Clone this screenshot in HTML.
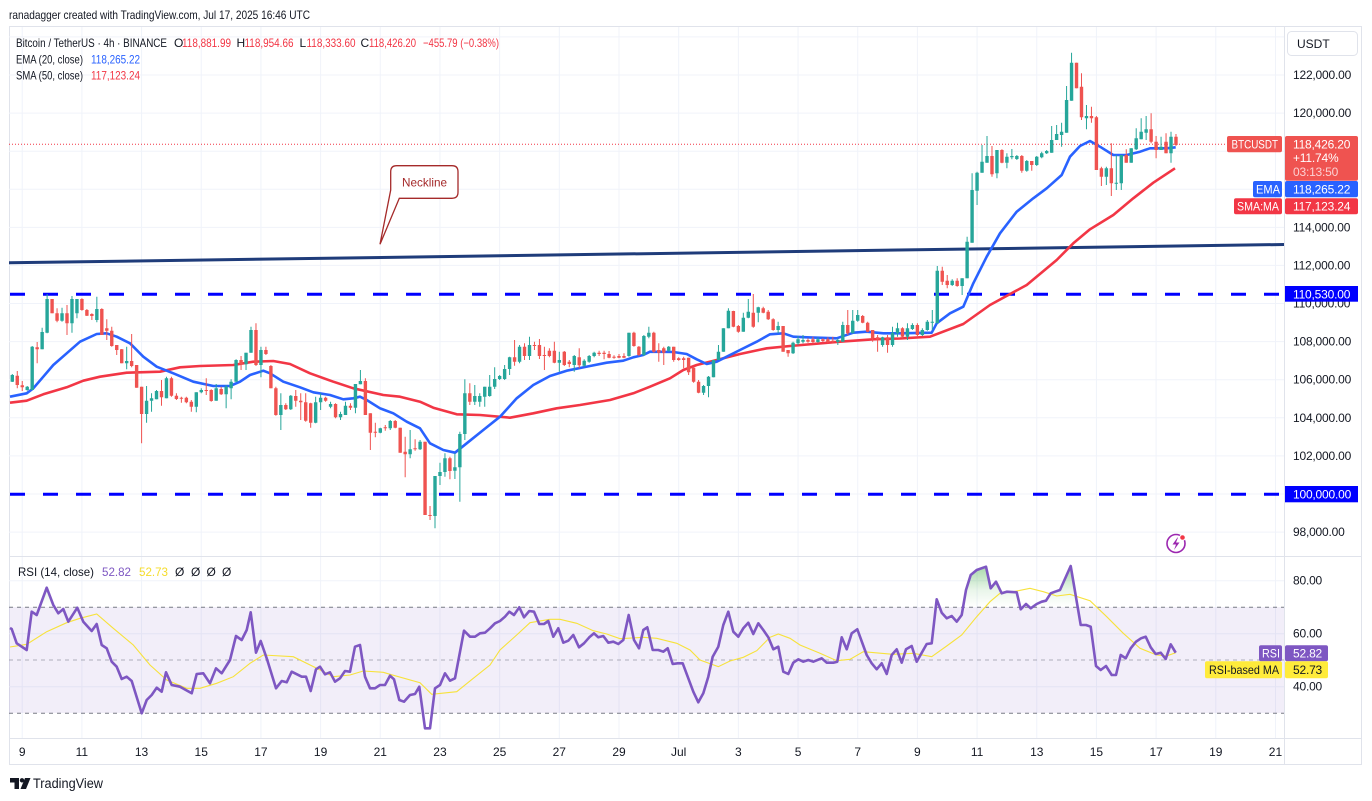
<!DOCTYPE html>
<html><head><meta charset="utf-8"><style>
html,body{margin:0;padding:0;background:#fff;}
svg{display:block;font-family:"Liberation Sans",Arial,sans-serif;}
</style></head><body>
<svg id="s" width="1372" height="801" viewBox="0 0 1372 801" xmlns="http://www.w3.org/2000/svg">
<defs>
<linearGradient id="gg" gradientUnits="userSpaceOnUse" x1="0" y1="565" x2="0" y2="607"><stop offset="0" stop-color="#4caf50" stop-opacity="0.5"/><stop offset="0.6" stop-color="#4caf50" stop-opacity="0.12"/><stop offset="1" stop-color="#4caf50" stop-opacity="0"/></linearGradient>
<clipPath id="cTop"><rect x="9" y="556" width="1275" height="51"/></clipPath>
<clipPath id="cMain"><rect x="9" y="27" width="1275" height="529"/></clipPath>
</defs>
<rect width="1372" height="801" fill="#fff"/>
<text x="9" y="19" font-size="12" fill="#131722" textLength="301" lengthAdjust="spacingAndGlyphs">ranadagger created with TradingView.com, Jul 17, 2025 16:46 UTC</text>

<rect x="9.5" y="26.5" width="1352" height="738" fill="none" stroke="#e0e3eb"/>

<g stroke="#f0f3fa" stroke-width="1" id="vgrid"></g>
<g stroke="#f0f3fa" stroke-width="1">
<line x1="9" x2="1284" y1="36.9" y2="36.9"/><line x1="9" x2="1284" y1="75" y2="75"/><line x1="9" x2="1284" y1="113.1" y2="113.1"/><line x1="9" x2="1284" y1="151.2" y2="151.2"/><line x1="9" x2="1284" y1="189.3" y2="189.3"/><line x1="9" x2="1284" y1="227.4" y2="227.4"/><line x1="9" x2="1284" y1="265.4" y2="265.4"/><line x1="9" x2="1284" y1="303.5" y2="303.5"/><line x1="9" x2="1284" y1="341.6" y2="341.6"/><line x1="9" x2="1284" y1="379.7" y2="379.7"/><line x1="9" x2="1284" y1="417.8" y2="417.8"/><line x1="9" x2="1284" y1="455.9" y2="455.9"/><line x1="9" x2="1284" y1="494" y2="494"/><line x1="9" x2="1284" y1="532.1" y2="532.1"/>
<line x1="9" x2="1284" y1="580.7" y2="580.7"/><line x1="9" x2="1284" y1="633.7" y2="633.7"/><line x1="9" x2="1284" y1="686.7" y2="686.7"/>
</g>

<line x1="9" x2="1362" y1="556.5" y2="556.5" stroke="#e0e3eb"/>
<line x1="9" x2="1362" y1="738.5" y2="738.5" stroke="#e0e3eb"/>
<line x1="1284.5" x2="1284.5" y1="27" y2="765" stroke="#e0e3eb"/>

<g font-size="12">
<text x="16" y="47" fill="#131722" textLength="151" lengthAdjust="spacingAndGlyphs">Bitcoin / TetherUS · 4h · BINANCE</text>
<text x="174" y="47" fill="#131722">O</text><text x="182" y="47" fill="#f23645" textLength="49" lengthAdjust="spacingAndGlyphs">118,881.99</text>
<text x="236.5" y="47" fill="#131722">H</text><text x="244.5" y="47" fill="#f23645" textLength="49" lengthAdjust="spacingAndGlyphs">118,954.66</text>
<text x="299.5" y="47" fill="#131722">L</text><text x="306.5" y="47" fill="#f23645" textLength="49" lengthAdjust="spacingAndGlyphs">118,333.60</text>
<text x="360.5" y="47" fill="#131722">C</text><text x="369" y="47" fill="#f23645" textLength="47" lengthAdjust="spacingAndGlyphs">118,426.20</text>
<text x="423" y="47" fill="#f23645" textLength="76" lengthAdjust="spacingAndGlyphs">−455.79 (−0.38%)</text>
<text x="16" y="63.5" fill="#131722" textLength="67" lengthAdjust="spacingAndGlyphs">EMA (20, close)</text>
<text x="91" y="63.5" fill="#2962ff" textLength="49" lengthAdjust="spacingAndGlyphs">118,265.22</text>
<text x="16" y="79.5" fill="#131722" textLength="67" lengthAdjust="spacingAndGlyphs">SMA (50, close)</text>
<text x="91" y="79.5" fill="#f23645" textLength="49" lengthAdjust="spacingAndGlyphs">117,123.24</text>
</g>

<g clip-path="url(#cMain)">
<line x1="9" x2="1227" y1="144.3" y2="144.3" stroke="#f23645" stroke-width="1" stroke-dasharray="1 2"/>
<line x1="10" x2="1284" y1="294.3" y2="294.3" stroke="#0000ff" stroke-width="3" stroke-dasharray="15 18"/>
<line x1="10" x2="1284" y1="494.3" y2="494.3" stroke="#0000ff" stroke-width="3" stroke-dasharray="15 18"/>
<line x1="9" y1="262.8" x2="1284" y2="244.5" stroke="#1f3c7a" stroke-width="3"/>
<polyline fill="none" stroke="#f23645" stroke-width="2.6" stroke-linejoin="round" points="10,402.7 26.7,400.7 43.3,394.3 66.7,387.3 83.3,380.7 100,376.7 126.7,372.7 160,371.7 180,367.3 200,366 233.3,365 253.3,361.7 273.3,361 290,364 310,373.3 333.3,381.7 353.3,388.3 383.3,395 400,396.7 420,401.7 433.3,407.7 456.7,414.3 480,415 510,417.7 533.3,413.3 556.7,408.3 580,405 610,400 633.3,393.3 650,386.7 670,378.3 683.3,370 696.7,365 716.7,360 740,354 766.7,348.3 790,346 840,341.7 873.3,339.3 900,338.5 930,336.7 963.3,324 990,305 1026.7,285 1056.7,260 1073.3,243.3 1090,229.3 1113.3,215 1133.3,198.3 1153.3,182.7 1175,168.3"/>
<polyline fill="none" stroke="#2962ff" stroke-width="2.6" stroke-linejoin="round" points="10,396.7 26.7,393.3 33.3,388.3 43.3,376.7 53.3,365 66.7,353.3 80,341.7 96.7,334 106.7,333.3 116.7,336.7 130,343.3 143.3,356.7 156.7,366.7 173.3,373.3 193.3,381.7 213.3,386 230,386 240,381.7 250,375 263.3,370.7 270,373.3 283.3,381.7 300,387.3 313.3,392.3 330,395 343.3,399.3 353.3,398.3 360,396.7 366.7,400 380,408.3 393.3,413.3 406.7,421.7 420,428.3 430,443.3 443.3,450 455,452.7 466.7,443.3 483.3,430 500,416.7 516.7,398.3 533.3,385 550,376 566.7,370.7 590,366 606.7,362.7 623.3,360.7 633.3,357.3 643.3,355 650,351.7 673.3,352 686.7,354 696.7,359.3 706.7,364 716.7,361.7 726.7,356.7 740,350 756.7,341.7 770,334.3 783.3,333.3 793.3,336.7 806.7,337.3 836.7,338.3 853.3,332.7 866.7,331.7 883.3,333.3 900,333.3 931.7,332.7 936.7,323.3 950,313.3 963.3,306.7 973.3,283.3 986.7,256.7 1000,233.3 1016.7,211.7 1033.3,198.3 1046.7,188.3 1061.7,175 1070,156.7 1080,146 1090,141 1100,146.7 1113.3,155 1126.7,155 1140,151.7 1150,148.3 1166.7,148.3 1175.7,147.3"/>
<g id="candles"></g>
</g>

<path d="M396.7 165.7 H452 Q458 165.7 458 171.7 V192.3 Q458 198.3 452 198.3 H399.3 L380 244.3 L390.7 190 V171.7 Q390.7 165.7 396.7 165.7 Z" fill="#fff" stroke="#a52a2a" stroke-width="1.3"/>
<text x="402" y="186.5" font-size="12" fill="#a52a2a" textLength="45" lengthAdjust="spacingAndGlyphs">Neckline</text>

<circle cx="1176" cy="543.5" r="9" fill="#fff" stroke="#9c27b0" stroke-width="1.6"/>
<path d="M1177.5 537.5 L1172.5 544.5 H1176 L1174 550 L1179.5 542.5 H1176 L1178 537.5 Z" fill="#9c27b0"/>
<circle cx="1182.5" cy="537.5" r="2.8" fill="#f23645" stroke="#fff" stroke-width="1"/>

<g font-size="12" fill="#131722" letter-spacing="-0.2">
<text x="1293" y="79">122,000.00</text>
<text x="1293" y="117.1">120,000.00</text>
<text x="1293" y="231.4">114,000.00</text>
<text x="1293" y="269.4">112,000.00</text>
<text x="1293" y="307.5">110,000.00</text>
<text x="1293" y="345.6">108,000.00</text>
<text x="1293" y="383.7">106,000.00</text>
<text x="1293" y="421.8">104,000.00</text>
<text x="1293" y="459.9">102,000.00</text>
<text x="1293" y="536.1">98,000.00</text>
<text x="1293" y="584.7">80.00</text>
<text x="1293" y="637.7">60.00</text>
<text x="1293" y="690.7">40.00</text>
</g>
<rect x="1287.5" y="31.5" width="70" height="24" rx="4" fill="#fff" stroke="#e0e3eb"/>
<text x="1297" y="48" font-size="12" fill="#131722">USDT</text>

<rect x="1227" y="136" width="55" height="16.3" rx="2" fill="#ef5350"/>
<text x="1231.5" y="148.5" font-size="12" fill="#fff" textLength="46.5" lengthAdjust="spacingAndGlyphs">BTCUSDT</text>
<rect x="1285" y="136" width="73" height="44.7" rx="2" fill="#ef5350"/>
<g font-size="12" fill="#fff" letter-spacing="-0.2">
<text x="1293" y="148.5">118,426.20</text>
<text x="1293" y="162">+11.74%</text>
<text x="1293" y="176" fill="#fbd0d2">03:13:50</text>
</g>
<rect x="1253" y="181" width="29" height="16.3" rx="2" fill="#2962ff"/>
<text x="1256" y="193.3" font-size="12" fill="#fff" textLength="24" lengthAdjust="spacingAndGlyphs">EMA</text>
<rect x="1285" y="181" width="73" height="16.3" rx="2" fill="#2962ff"/>
<text x="1293" y="193.3" font-size="12" fill="#fff" letter-spacing="-0.2">118,265.22</text>
<rect x="1234" y="198.3" width="48" height="16" rx="2" fill="#f23645"/>
<text x="1237" y="210.5" font-size="12" fill="#fff" textLength="42" lengthAdjust="spacingAndGlyphs">SMA:MA</text>
<rect x="1285" y="198.3" width="73" height="16" rx="2" fill="#f23645"/>
<text x="1293" y="210.5" font-size="12" fill="#fff" letter-spacing="-0.2">117,123.24</text>
<rect x="1285" y="286" width="73" height="15.7" fill="#0000ff"/>
<text x="1293" y="298.3" font-size="12" fill="#fff" letter-spacing="-0.2">110,530.00</text>
<rect x="1285" y="486" width="73" height="16.3" fill="#0000ff"/>
<text x="1293" y="498.5" font-size="12" fill="#fff" letter-spacing="-0.2">100,000.00</text>

<rect x="9" y="607" width="1275" height="106" fill="#7e57c2" fill-opacity="0.1"/>
<line x1="9" x2="1284" y1="607.3" y2="607.3" stroke="#787b86" stroke-dasharray="4 4"/>
<line x1="9" x2="1284" y1="660" y2="660" stroke="#787b86" stroke-opacity="0.55" stroke-dasharray="4 4"/>
<line x1="9" x2="1284" y1="713.3" y2="713.3" stroke="#787b86" stroke-dasharray="4 4"/>
<polygon id="rsiFillTop" clip-path="url(#cTop)" fill="url(#gg)" points=""/>
<polyline id="rsiMA" fill="none" stroke="#f7e23b" stroke-width="1.1" points="10,647 26.7,644.3 46.7,631.7 66.7,622.7 80,618.3 96.7,614 113.3,628.3 133.3,645 150,665 166.7,680 186.7,688.3 200,688.3 216.7,683.3 233.3,676.7 250,663.3 263.3,655 293.3,656.7 316.7,668.3 333.3,676.7 350,675 363.3,671 383.3,672.3 390,674.3 420,682.7 431.7,694.3 456.7,691.7 473.3,678.3 490,665 500,650 516.7,635 530,622.7 550,619.3 560,619.3 576.7,623.3 593.3,630.7 606.7,634 620,638.7 643.3,637.3 656.7,638.3 676.7,643.3 690,650 700,660 718.3,666.7 730,661 743.3,657.3 756.7,650.7 770,637.3 778.3,634 790,638.3 800,645 820,653.3 836.7,660.7 850,659.3 863.3,651.7 893.3,654.3 913.3,653.3 931.7,656.7 946.7,646 961.7,635 976.7,616.7 990,601.7 1000,593.3 1013.3,591.7 1030,588.3 1043.3,591.7 1056.7,596 1070,594.3 1090,600.7 1106.7,616.7 1123.3,633.3 1140,648.3 1156.7,655 1166.7,656 1175.7,652.7"/>
<polyline id="rsi" fill="none" stroke="#7e57c2" stroke-width="2.6" stroke-linejoin="round" points="10,628 11.7,629 16.7,643.3 26.7,650 31.7,611.7 36.7,615 46.7,587.7 53.3,605 58.3,613.3 63.3,609 68.3,621.7 77.3,607.7 83.3,621.7 91.7,631 96.7,624 101.7,645 106.7,648.3 111.7,661.7 116.7,666.7 121.7,679 126.7,676.7 131.7,681 141.7,713.3 146.7,700 151.7,695 156.7,687.7 161.7,691.7 166,672.3 171.7,685 180,686.7 191.7,693.3 196.7,674 203.3,673.3 210,683.3 216,668.3 221.7,673.3 230,660 236,636 241.7,640 246.7,630 250.7,612.3 256,652.7 260.7,641 266.7,658.3 276,688.3 281.7,681 286.7,682.3 291.7,671.7 301.7,676.7 306,676.7 310.7,691 316,669.3 320,666.7 325,674.3 330,672.3 335,681.7 340,678.3 345,671 350,671.7 355,646.7 360,645 365,676.7 370,688.3 375,688.3 380,685 385,685 390,675.7 394,679.3 399.3,700 404,701.7 410,695 415,694 419.3,686.7 425,728.3 430,728.3 435,688.3 440,685 445,673.3 450,680.7 455,678.3 464,630.7 470,636.7 475,636.7 480,633.3 485,632.7 490,628.3 495,623.3 500,621 505,616.7 509.3,611.7 514,615 519.3,607.3 524,617.3 529.3,611 534,611.7 539.3,624 544,624 548.3,621 553.3,636.7 558.3,628.3 563.3,642.7 568.3,640.7 573.3,635 579,647.3 584,643.3 589.3,637.3 594,633.3 598.3,637.3 603.3,636 608.3,642.7 613.3,641.7 618.3,644 623.3,640 628.7,615 634,640 639,648.3 643.3,630 647.3,627.3 652.7,650 658.3,650 663.3,651.7 667.7,648.3 672.7,664 677.7,663.3 682.7,663.3 688.3,678.3 693.3,691.7 698.3,702.3 703.3,693.3 708.3,676.7 712.7,656.7 718.3,646.7 723.3,625 728.3,611.7 733.3,631.7 738.3,636.7 743.3,628.3 748.3,622.7 753.3,634 758.3,623.3 763.3,630 768.3,637.3 773.3,649.3 778.3,646.7 783.3,671.7 788.3,674 793.3,662.7 798.3,659.3 803.3,661.7 808.3,660 813.3,661.7 821.7,658.3 826.7,662.7 833.3,662.7 837.3,661.7 841.7,637.3 846.7,649.3 851.7,633.3 857.3,629.3 866.7,655 871.7,663.3 876.7,669.3 881.7,663.3 886.7,674 891.7,655 896.7,649.3 901.7,662.7 906,649.3 911.7,646 916.7,661.7 926.7,644 931.7,643.3 936.7,599.3 941.7,612.7 946.7,618.3 951.7,616 956.7,621.7 961.7,615 966,590 970.7,575 976.7,570 986,566.7 990.7,588.3 996,581.7 1001.7,593.3 1006.7,591.7 1016.7,592.3 1020.7,609.3 1026,604 1030.7,608.3 1036.7,604 1041.7,601.7 1046,600.7 1050.7,593.3 1055,591.7 1060,590 1070.7,566 1080.7,625 1086,625 1090.7,626.7 1096,666 1100.7,670 1106,666 1111.7,675 1116,675 1120.7,655 1125.7,658.3 1130.7,648.3 1136,641.7 1141,638.3 1145.7,636.7 1150.7,647.3 1155.7,654 1160.7,652.7 1165.7,659 1170.7,644.3 1175.7,652.7"/>

<g font-size="12">
<text x="18" y="576" fill="#131722" textLength="76" lengthAdjust="spacingAndGlyphs">RSI (14, close)</text>
<text x="102" y="576" fill="#7e57c2" textLength="29" lengthAdjust="spacingAndGlyphs">52.82</text>
<text x="139" y="576" fill="#f5dc2a" textLength="29" lengthAdjust="spacingAndGlyphs">52.73</text>
<text x="175" y="576" fill="#131722">Ø</text><text x="191" y="576" fill="#131722">Ø</text><text x="206.5" y="576" fill="#131722">Ø</text><text x="222" y="576" fill="#131722">Ø</text>
</g>
<rect x="1259" y="645.3" width="23" height="16" rx="2" fill="#7e57c2"/>
<text x="1262" y="657.5" font-size="12" fill="#fff" textLength="18" lengthAdjust="spacingAndGlyphs">RSI</text>
<rect x="1285" y="645.3" width="43" height="16" rx="2" fill="#7e57c2"/>
<text x="1293" y="657.5" font-size="12" fill="#fff" letter-spacing="-0.2">52.82</text>
<rect x="1205" y="661.3" width="77" height="17" rx="2" fill="#ffeb3b"/>
<text x="1209" y="674" font-size="12" fill="#131722" textLength="70" lengthAdjust="spacingAndGlyphs">RSI-based MA</text>
<rect x="1285" y="661.3" width="43" height="17" rx="2" fill="#ffeb3b"/>
<text x="1293" y="674" font-size="12" fill="#131722" letter-spacing="-0.2">52.73</text>

<g id="taxis" font-size="12" fill="#131722" text-anchor="middle"></g>

<g fill="#131722">
<path d="M10 778 H19 V789 H14.5 V782.5 H10 Z"/>
<circle cx="22" cy="780.3" r="2.2"/>
<path d="M25 778 H30.5 L26 789 H20.5 Z"/>
</g>
<text x="33" y="788" font-size="13.5" fill="#131722" textLength="70" lengthAdjust="spacingAndGlyphs">TradingView</text>
</svg>
<script>
(function(){
var NS="http://www.w3.org/2000/svg";
var D=[[375,381.7,374,382,1],[375.7,385,371,388.3,0],[385.3,387.3,381,391,0],[386.7,390,386,390.7,1],[346.7,390,346,390,1],[347.3,349.3,342,363.3,0],[332,349.3,327.7,349.3,1],[299,332.7,294,333.3,1],[299,313.3,299,313.3,0],[313.3,320.7,308.3,322.3,0],[313.3,320.7,307.7,321.7,1],[313.3,323.3,305,335,0],[299,323.3,296,332.7,1],[299,313.3,299,318.3,1],[299,310,298.3,310.7,0],[310,315.7,309,316,0],[314,316,313.3,320,0],[309,320,296.7,322.3,1],[309,335,308.3,335,0],[328.3,330.7,319.3,340,0],[330.7,346,326.7,346.7,0],[345,350,345,355,0],[349.3,363.3,349,363.3,0],[361,363.3,346.7,369.3,1],[361,366,334,367.3,0],[365,387.7,365,387.7,0],[386.7,414,386.7,443.3,0],[400.7,414,386,422.7,1],[398.3,400.7,393.3,411.7,1],[391,399.3,390,399.3,1],[391,397.3,380,405.7,0],[378.3,398.3,376.7,398.3,1],[378.3,395.7,376.7,396.7,0],[395.7,399,393.3,400,0],[397.7,398.7,396.7,402.7,0],[397.7,402.3,396.7,403.3,0],[401.7,406.7,400,411.7,0],[392.3,406.7,392.3,412.3,1],[390,392.3,388.3,393.3,1],[390,390.7,378.3,395,0],[390,401,389.3,401.7,0],[388.3,400.7,384,400.7,1],[389,394.3,386.7,395,0],[386.7,394.3,385,408.3,1],[381.7,388.3,379.3,399.3,1],[360,381.7,359.3,381.7,1],[360,364.3,356,370,0],[352.7,364.3,352.7,370,1],[330,352.7,326.7,352.7,1],[330,365,323.3,366,0],[350,365,346.7,377.3,1],[350,354,346.7,355,0],[366,388.3,365,388.3,0],[388.3,415,386.7,415.7,0],[405,415,393.3,430,1],[405,409.3,403.3,410,0],[395.7,409.3,395,410,1],[396,400.7,390,406.7,0],[400.7,402.3,393.3,420,0],[402.3,420.7,393.3,421.7,0],[403.3,422.7,402.7,427.7,0],[402.3,422.7,396.7,423.3,1],[397.7,402.3,393.3,410,1],[397.7,400.7,396.7,401.7,0],[404,406.7,401.7,408.3,1],[404,417.3,403.3,418.3,0],[414,417.3,411.7,420,1],[405.7,415,401.7,415,1],[405.7,407.7,403.3,410,0],[384,407.7,384,413.3,1],[381,384.3,370,384.3,1],[381,415,378.3,415,0],[413.3,432.7,413.3,450,0],[431.7,432.7,422.7,437.3,0],[428.3,432.7,427.7,433.3,1],[427.3,428.3,425,430.7,0],[421,428.3,420,430,1],[421,427.7,420,428.3,0],[427.7,452.7,427.7,452.7,0],[451.7,454.3,436.7,477.3,0],[449.3,454.3,430,458.3,1],[448.3,449.3,439.3,450.7,0],[441.7,449.3,440,450,1],[441.7,515,441.7,515,0],[515,516,506,520,0],[476,516,476,528.3,1],[472,476,462.7,485,1],[458.3,472,453.3,476.7,1],[458.3,471,456.7,479.3,0],[467.3,470.7,453.3,479,1],[434,467.3,431.7,501.7,1],[393.3,434,379.3,440,1],[393.3,401.7,383.3,405,0],[396,401.7,385,405,1],
[396,401.7,393.3,406.7,1],[386.7,396.7,386.7,406.7,1],[386.7,396,375,396.7,1],[379,386.7,367.3,389,1],[376,379,375,380,1],[369,379,365,380,1],[357.3,369,356.7,375,1],[357.3,361.7,340,365.7,0],[346.7,361.7,345,363.3,1],[346.7,356,343.3,360,0],[345,356,336.7,360,1],[345,346,341.7,350,0],[345,356,339,359,0],[355,356,346.7,370,0],[350.7,356,348.3,357.3,0],[350.7,362.7,341.7,363.3,0],[360,362.7,351.7,371.7,1],[351.7,365,351,366,0],[361.7,364,360,367.3,0],[356,365,355,371.7,1],[357.3,365.3,348.3,368.3,0],[360.7,365.7,359.3,366.7,1],[356,361.7,355,362.7,1],[352.7,356,351.7,357.3,1],[352.7,354,350.7,356,0],[352.7,354,350.7,359.3,0],[354,357.7,351,358.3,0],[356.7,357.7,355.3,358.7,0],[356,357.7,354,358.3,0],[356,357.7,353.3,358.3,0],[332.7,356,332.7,356.7,1],[332.7,346,331.7,346.7,0],[346.7,355,346,356,0],[336,355,335,356,1],[332.7,336.7,326.7,338.3,1],[332.7,351.7,331.7,352.7,0],[350,352.7,343.3,361.7,0],[348.3,352.7,346.7,365,0],[346.7,350.7,346,351.7,1],[346.7,360,346.7,361.7,0],[358.3,360,357.3,360.7,0],[358.3,360,356.7,368.3,0],[357.7,372.3,357.7,375,0],[367.7,381.7,366.7,382.7,0],[381.7,392.7,380,393.3,0],[386,392.7,385,395,1],[376.7,386,376,397.3,1],[360,377.3,360,377.3,1],[351.7,360,345,360,1],[328.3,351.7,328.3,351.7,1],[310.7,328.3,308.3,328.3,1],[311,326.7,310.7,327.3,0],[326,331.7,325,332.7,0],[317.7,331.7,312.7,331.7,1],[311.7,317.7,299,318.3,1],[312.7,326.7,294,327.7,0],[307.3,312.7,306.7,322.3,1],[308.3,312.7,306.7,313.3,0],[311.7,319.3,310,320,0],[319.3,330,318.3,330.7,0],[326,330,321.7,333.3,1],[326,351.7,326,351.7,0],[350,353.3,350,356.7,0],[342.7,353.3,341.7,354,1],[339.3,343.3,336,345,1],[340,341.7,335,343.3,1],[340,341.7,338.3,342.7,0],[339.3,342,336.7,343.3,0],[339.3,342,337.3,342.7,1],[339.3,341,338.3,342,0],[339.3,342,337.3,343.3,0],[340.7,341.7,336.7,343.3,0],[340,342,338.3,345,1],[325,341.7,321.7,341.7,1],[325,333.3,310,335,0],[320.7,333.3,310,333.3,1],[315,320.7,310,321.7,1],[316,322.7,315,323.3,0],[322.7,331.7,321.7,332.3,0],[330,338.3,330,341.7,0],[337.3,339.3,335,351.7,0],[337.3,345,336.7,346.7,1],[337.3,345,335,352.7,0],[332.7,345,326.7,346.7,1],[328.3,333.3,322.7,336.7,1],
[328.3,336.7,327.3,338.3,0],[328.3,336.7,323.3,340,1],[325,329,323.3,330,1],[325,335,323.3,336,0],[330,335,328.3,336,1],[321.7,330,320,330.7,1],[321.7,322.7,310,330,1],[270.7,323.3,266,323.3,1],[270.7,281.7,266.7,285,0],[280.7,285,275,288.3,0],[280.7,285,279.3,286,1],[280.7,286,278.3,286.7,0],[278.3,286,278.3,295,1],[241.7,278.3,236.7,278.3,1],[190,242.7,173.3,242.7,1],[172.7,190.7,171.7,205,1],[161.7,172.7,145,172.7,1],[156,162.7,136,162.7,1],[156,174.3,146,176.7,0],[150,173.3,150,178.3,1],[150,162.7,149.3,163.3,0],[156.7,162.7,153.3,168.3,1],[156,157.3,149,159.3,1],[156,159,155,160,1],[156,170.7,155,172.7,0],[161,170.7,160,171.7,1],[161,165,161,170.7,0],[156.7,165,156,166,1],[153.3,157.3,151.7,158.3,1],[151,153.3,150,154,1],[140,152.7,126,152.7,1],[134,140,125,140,1],[131.7,135,122.7,146.7,1],[100,132.7,86,132.7,1],[62.7,100.7,52.7,100.7,1],[62.7,88.3,62.7,88.3,0],[86.7,117.3,73.3,120,0],[116,118.3,105,129.3,1],[116,118.3,106.7,122.7,0],[117.3,170,116,170,0],[168.3,176.7,166.7,186,0],[168.3,176.7,166.7,185,1],[168.3,183.3,143.3,196,0],[182.7,183.3,155,190,1],[155,183.3,155,190,1],[155,162.7,149.3,162.7,0],[148.3,162.7,148.3,162.7,1],[138.3,149.3,128.3,150,1],[131.7,139.3,118.3,139.3,1],[129.3,132.7,116,140,1],[129.3,141.7,113.3,143.3,0],[141.7,150,136,158.3,0],[146.7,150,136.7,150,1],[141.7,153.3,133.3,153.3,0],[136.7,153.3,131.7,162.7,1],[136.7,145,134,146,0]];
var gw="",gb="",rw="",rb="";
for(var i=0;i<D.length;i++){
 var d=D[i],x=12.3+4.973*i,bt=d[0],bb=d[1];
 if(bb-bt<1){bb=bt+1;}
 var w="M"+x.toFixed(2)+" "+d[2]+"V"+d[3];
 var b="M"+(x-1.7).toFixed(2)+" "+bt+"H"+(x+1.7).toFixed(2)+"V"+bb+"H"+(x-1.7).toFixed(2)+"Z";
 if(d[4]){gw+=w;gb+=b;}else{rw+=w;rb+=b;}
}
var c=document.getElementById("candles");
function p(dd,attrs){var e=document.createElementNS(NS,"path");e.setAttribute("d",dd);for(var k in attrs)e.setAttribute(k,attrs[k]);c.appendChild(e);}
p(gw,{stroke:"#26a69a","stroke-width":"1",fill:"none"});
p(rw,{stroke:"#ef5350","stroke-width":"1",fill:"none"});
p(gb,{fill:"#26a69a"});
p(rb,{fill:"#ef5350"});
var labels=["9","11","13","15","17","19","21","23","25","27","29","Jul","3","5","7","9","11","13","15","17","19","21"];
var vg=document.getElementById("vgrid"),ta=document.getElementById("taxis");
for(var k=0;k<labels.length;k++){
 var xx=22.2+59.68*k;
 var l=document.createElementNS(NS,"line");
 l.setAttribute("x1",xx);l.setAttribute("x2",xx);l.setAttribute("y1",27);l.setAttribute("y2",738);
 vg.appendChild(l);
 var t=document.createElementNS(NS,"text");
 t.setAttribute("x",xx);t.setAttribute("y",756);t.textContent=labels[k];
 ta.appendChild(t);
}
var pts=document.getElementById("rsi").getAttribute("points").trim();
document.getElementById("rsiFillTop").setAttribute("points",pts+" 1175.7,607.3 10,607.3");
})();
</script>
</body></html>
